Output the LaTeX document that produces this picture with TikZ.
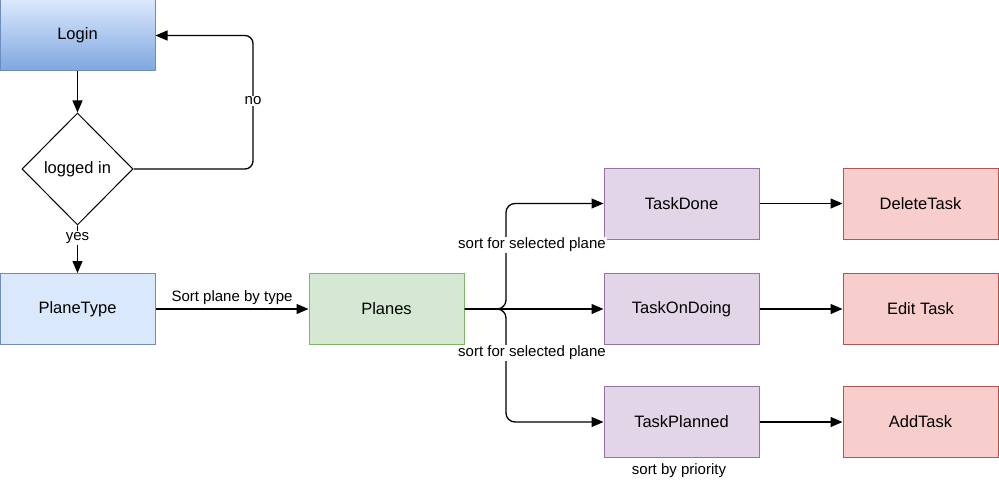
\documentclass[tikz,border=0pt]{standalone}
\usepackage{fontspec}
\setmainfont{Liberation Sans}
\usetikzlibrary{arrows.meta,shapes.geometric}
\definecolor{bluefill}{HTML}{DAE8FC}
\definecolor{bluedark}{HTML}{7EA6E0}
\definecolor{blueline}{HTML}{6C8EBF}
\definecolor{greenfill}{HTML}{D5E8D4}
\definecolor{greenline}{HTML}{82B366}
\definecolor{purplefill}{HTML}{E1D5E7}
\definecolor{purpleline}{HTML}{9673A6}
\definecolor{redfill}{HTML}{F8CECC}
\definecolor{redline}{HTML}{B85450}
\tikzset{
  box/.style={rectangle, minimum width=155pt, minimum height=71pt, inner sep=0pt, line width=1pt, font=\fontsize{16.5}{19}\selectfont},
  bluebox/.style={box, draw=blueline, fill=bluefill},
  greenbox/.style={box, draw=greenline, fill=greenfill},
  purplebox/.style={box, draw=purpleline, fill=purplefill},
  redbox/.style={box, draw=redline, fill=redfill},
  decision/.style={diamond, draw=black, fill=white, line width=1pt, minimum width=111pt, minimum height=112pt, inner sep=0pt, font=\fontsize{16.5}{19}\selectfont},
  arr/.style={draw=black, line width=1.3pt, -{Triangle[length=12pt,width=10pt]}},
  lbl/.style={fill=white, inner sep=1pt, font=\fontsize{15}{18}\selectfont},
  plainlbl/.style={inner sep=1pt, font=\fontsize{15}{18}\selectfont}
}
\begin{document}
\begin{tikzpicture}[x=1pt,y=-1pt]
\useasboundingbox (0,0) rectangle (999,487);
\node[box, draw=blueline, top color=bluefill, bottom color=bluedark] (login) at (77.5,35.5) {Login};
\node[decision] (dia) at (77.5,169) {logged in};
\node[bluebox] (pt) at (77.5,309) {PlaneType};
\node[greenbox] (planes) at (386.5,309) {Planes};
\node[purplebox] (td) at (681.5,203.5) {TaskDone};
\node[purplebox] (tod) at (681.5,309) {TaskOnDoing};
\node[purplebox] (tp) at (681.5,422) {TaskPlanned};
\node[redbox] (dt) at (920.5,203.5) {DeleteTask};
\node[redbox] (et) at (920.5,309) {Edit Task};
\node[redbox] (at) at (920.5,422) {AddTask};

\coordinate (nocorner) at (253,35.5);
\coordinate (split) at (506,309);

\draw[arr] (login) -- (dia);
\draw[arr, rounded corners=8pt] (dia.east) -| (nocorner) -- (login.east);
\node[lbl] (nolbl) at (253,101) {no};
\draw[arr] (dia.south) -- (pt.north);
\node[lbl] (yeslbl) at (77.5,238) {yes};
\draw[arr] (pt) -- (planes) node[plainlbl, midway, above=3pt] (sortlbl) {Sort plane by type};

\draw[arr, rounded corners=9pt] (planes.east) -- (split) |- (td.west);
\draw[arr] (planes.east) -- (tod.west);
\draw[arr, rounded corners=9pt] (planes.east) -- (split) |- (tp.west);
\node[lbl] (sel1) at (532,245) {sort for selected plane};
\node[lbl] (sel2) at (532,353) {sort for selected plane};
\node[plainlbl] (prio) at (679,471) {sort by priority};

\draw[arr] (td) -- (dt);
\draw[arr] (tod) -- (et);
\draw[arr] (tp) -- (at);
\end{tikzpicture}
\end{document}
